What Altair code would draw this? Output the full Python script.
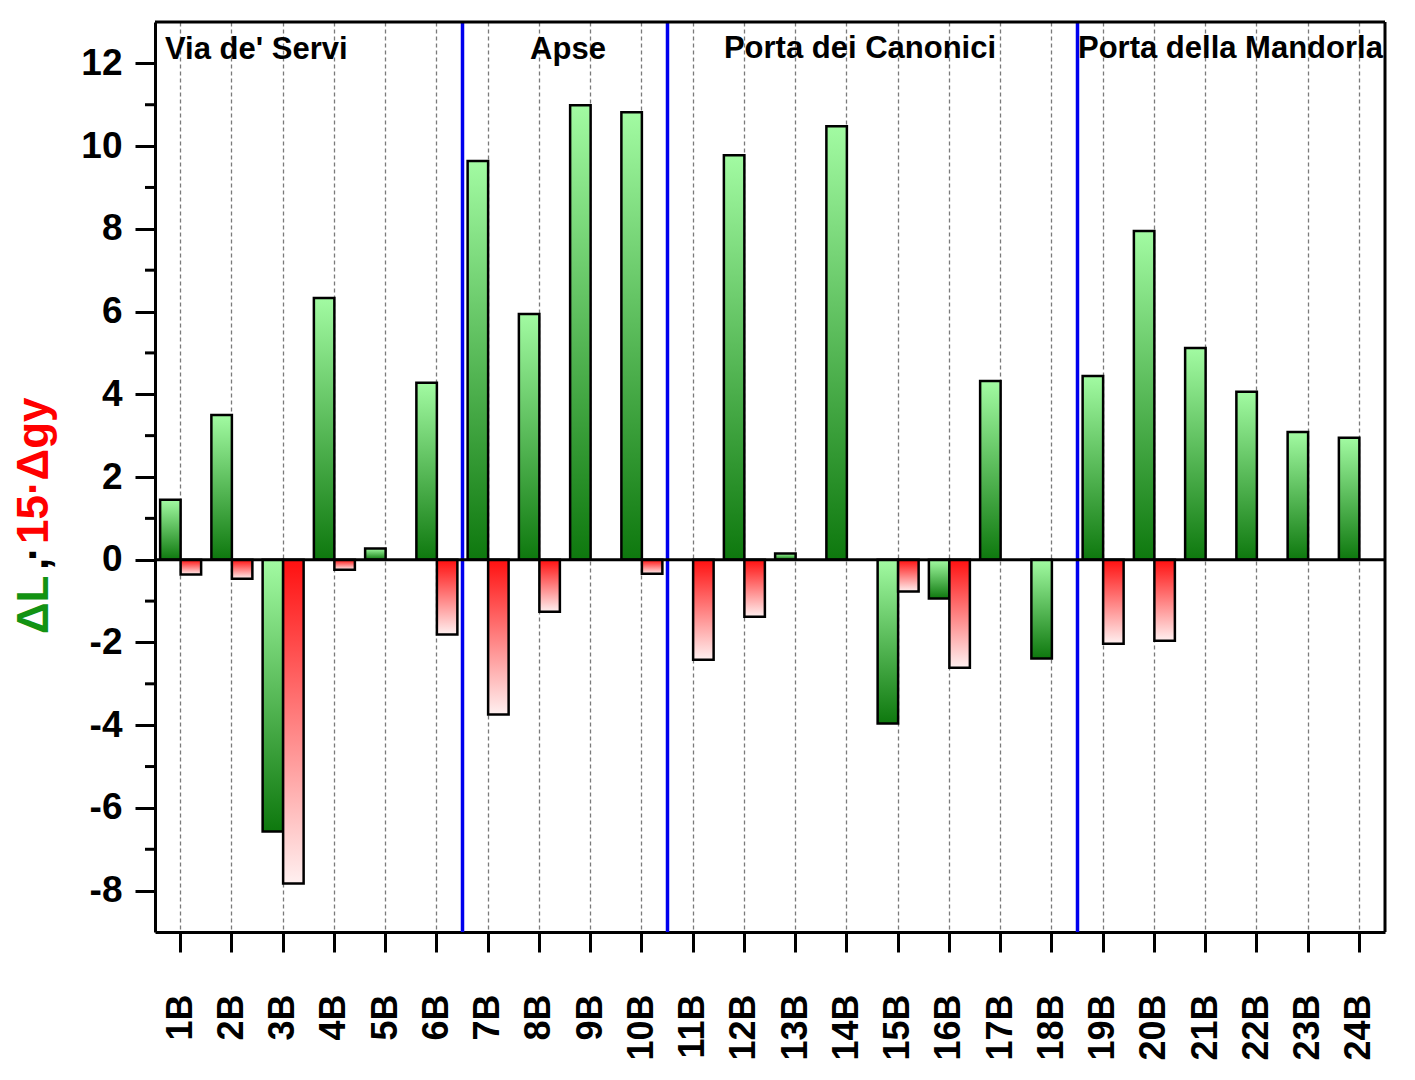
import altair as alt
import pandas as pd

cats = ["1B", "2B", "3B", "4B", "5B", "6B", "7B", "8B", "9B", "10B", "11B", "12B",
        "13B", "14B", "15B", "16B", "17B", "18B", "19B", "20B", "21B", "22B", "23B", "24B"]
dL = [1.45, 3.5, -6.57, 6.33, 0.27, 4.28, 9.64, 5.94, 10.99, 10.82, 0.0, 9.78,
      0.15, 10.48, -3.96, -0.94, 4.32, -2.39, 4.44, 7.95, 5.12, 4.06, 3.09, 2.95]
dgy15 = [-0.36, -0.46, -7.83, -0.24, 0.0, -1.81, -3.74, -1.26, 0.0, -0.34, -2.42, -1.38,
         0.0, 0.0, -0.77, -2.61, 0.0, 0.0, -2.03, -1.96, 0.0, 0.0, 0.0, 0.0]
section_starts = ["7B", "11B", "19B"]
sections = ["Via de' Servi", "Apse", "Porta dei Canonici", "Porta della Mandorla"]
major_ticks = [-8, -6, -4, -2, 0, 2, 4, 6, 8, 10, 12]
minor_ticks = [-7, -5, -3, -1, 1, 3, 5, 7, 9, 11]

W, H = 1230, 910
FONT = "Liberation Sans"

rows = []
for c, a, b in zip(cats, dL, dgy15):
    rows.append({"c": c, "s": "dL", "v": a})
    rows.append({"c": c, "s": "dgy", "v": b})
df = pd.DataFrame(rows)

xscale = alt.Scale(domain=cats, paddingInner=0, paddingOuter=0)
yscale = alt.Scale(domain=[-9, 13], nice=False, zero=False)
xoff = alt.XOffset("s:N", scale=alt.Scale(domain=["dL", "dgy"], paddingInner=0, paddingOuter=0.25))

xaxis = alt.Axis(title=None, labelAngle=270, labelFontSize=36, labelFontWeight="bold",
                 labelColor="black", labelPadding=42, tickSize=20, tickWidth=3, tickColor="black",
                 domainColor="black", domainWidth=3, grid=True, gridDash=[4, 3],
                 gridColor="#7a7a7a", gridWidth=1.3, labelFont=FONT)
yaxis = alt.Axis(title=None, values=major_ticks, labelFontSize=37, labelFontWeight="bold",
                 labelColor="black", labelPadding=13, tickSize=20, tickWidth=3, tickColor="black",
                 domainColor="black", domainWidth=3, grid=False, labelFont=FONT,
                 labelExpr="'' + datum.value")

green_grad = alt.LinearGradient(gradient="linear", x1=0, y1=0, x2=0, y2=1,
                                stops=[alt.GradientStop(offset=0, color="#a2fba2"),
                                       alt.GradientStop(offset=1, color="#0e780e")])
red_grad = alt.LinearGradient(gradient="linear", x1=0, y1=0, x2=0, y2=1,
                              stops=[alt.GradientStop(offset=0, color="#ff1010"),
                                     alt.GradientStop(offset=1, color="#fff0f0")])

base = alt.Chart(df)

green = base.transform_filter("datum.s == 'dL' && datum.v != 0").mark_bar(
    fill=green_grad, stroke="black", strokeWidth=2.5).encode(
    x=alt.X("c:N", scale=xscale, axis=xaxis, sort=cats),
    xOffset=xoff,
    y=alt.Y("v:Q", scale=yscale, axis=yaxis),
    y2=alt.datum(0),
)
red = base.transform_filter("datum.s == 'dgy' && datum.v != 0").mark_bar(
    fill=red_grad, stroke="black", strokeWidth=2.5).encode(
    x=alt.X("c:N", scale=xscale, sort=cats),
    xOffset=xoff,
    y=alt.Y("v:Q", scale=yscale),
    y2=alt.datum(0),
)

zero = alt.Chart(pd.DataFrame({"y": [0]})).mark_rule(color="black", strokeWidth=3).encode(
    y=alt.Y("y:Q", scale=yscale))

blue = alt.Chart(pd.DataFrame({"c": section_starts})).mark_rule(color="#0000ee", strokeWidth=3.5).encode(
    x=alt.X("c:N", scale=xscale, bandPosition=0))

minor = alt.Chart(pd.DataFrame({"v": minor_ticks})).mark_rule(color="black", strokeWidth=3).encode(
    y=alt.Y("v:Q", scale=yscale), x=alt.value(-10), x2=alt.value(0))

# frame (top and right edges)
one = pd.DataFrame({"k": [0]})
frame_top = alt.Chart(one).mark_rule(color="black", strokeWidth=3).encode(
    x=alt.value(0), x2=alt.value(W), y=alt.value(0))
frame_right = alt.Chart(one).mark_rule(color="black", strokeWidth=3).encode(
    x=alt.value(W), y=alt.value(0), y2=alt.value(H))

def label(text, x, y, align="left", color="black", size=31, angle=0):
    return alt.Chart(pd.DataFrame({"t": [text]})).mark_text(
        align=align, baseline="middle", fontSize=size, fontWeight="bold", font=FONT,
        color=color, angle=angle).encode(text="t:N", x=alt.value(x), y=alt.value(y))

sec_labels = [
    label(sections[0], 10, 28, "left"),
    label(sections[1], 413, 28, "center"),
    label(sections[2], 705, 27, "center"),
    label(sections[3], 923, 27, "left"),
]

TX = -120
ytitle = [
    label("ΔL", TX, 612, "left", "#139313", 44, 270),
    label(",", TX, 548, "left", "black", 44, 270),
    label("·", TX, 539, "left", "black", 44, 270),
    label("15·Δgy", TX, 522, "left", "#ff0000", 44, 270),
]

chart = alt.layer(blue, green, red, zero, minor, frame_top, frame_right, *sec_labels, *ytitle).properties(
    width=W, height=H,
    autosize=alt.AutoSizeParams(type="none"),
    padding={"left": 147, "top": 14, "right": 14, "bottom": 136},
).configure_view(stroke="black", strokeWidth=3).configure(font=FONT)

chart.save("out.html", embed_options={"renderer": "svg", "actions": False})
